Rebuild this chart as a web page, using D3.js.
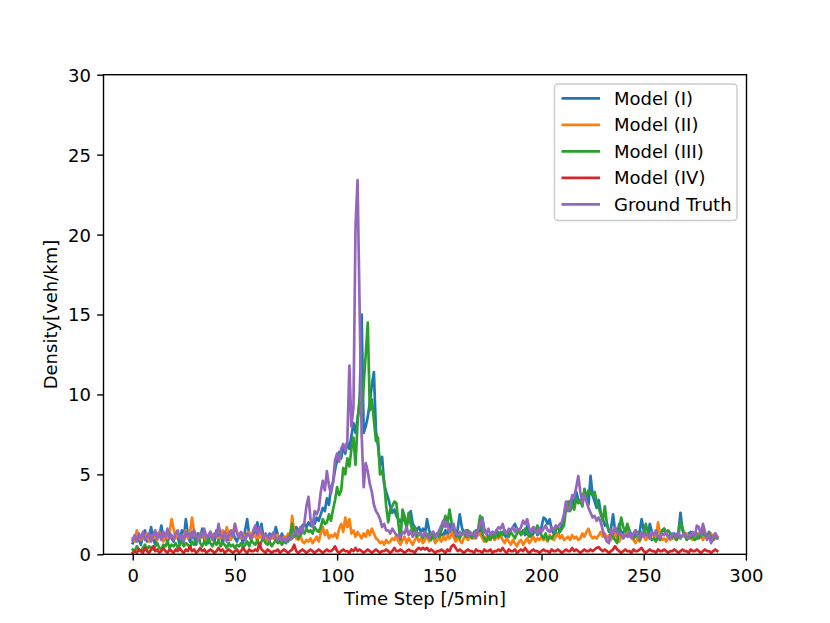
<!DOCTYPE html>
<html>
<head>
<meta charset="utf-8">
<script src="https://cdn.jsdelivr.net/npm/d3@7"></script>
<style>
    body { margin: 0; background: #ffffff; }
    text { font-family: "DejaVu Sans", sans-serif; fill: #000000; }
</style>
</head>
<body>
<script>
// tick labels
var xTicks = [0, 50, 100, 150, 200, 250, 300];
var yTicks = [0, 5, 10, 15, 20, 25, 30];

var seriesNames = ["Model (I)", "Model (II)", "Model (III)", "Model (IV)", "Ground Truth"];
var seriesColors = ["#1f77b4", "#ff7f0e", "#2ca02c", "#d62728", "#9467bd"];

// density per 5 min time step (t = 0 .. 286)
var modelI = [
    0.7, 1.0, 1.3, 0.9, 0.6, 1.2, 1.5, 0.8, 1.1, 1.7,
    1.0, 0.6, 1.3, 1.1, 1.8, 0.9, 1.2, 0.7, 1.4, 1.0,
    0.8, 1.3, 1.1, 0.6, 1.5, 1.0, 2.2, 1.2, 0.8, 1.4,
    1.1, 0.6, 1.3, 1.0, 1.6, 0.9, 1.2, 0.7, 1.4, 1.1,
    0.8, 1.5, 1.0, 1.3, 0.7, 1.2, 1.6, 0.9, 1.1, 1.4,
    1.0, 0.8, 1.3, 1.1, 0.7, 1.5, 2.2, 1.2, 0.9, 1.3,
    1.4, 2.0, 1.1, 1.9, 1.0, 1.2, 0.8, 1.3, 1.1, 1.0,
    1.7, 1.2, 0.9, 1.3, 1.0, 1.1, 0.8, 1.2, 1.0, 1.4,
    1.7, 1.5, 1.4, 1.8, 1.9, 1.7, 2.0, 1.8, 2.1, 1.9,
    2.3, 2.1, 2.5, 2.9, 2.7, 3.5, 3.1, 4.2, 4.5, 5.3,
    5.9, 6.4, 6.0, 6.8, 6.3, 7.0, 6.6, 7.4, 8.2, 7.6,
    8.5, 9.5, 15.0, 7.6, 8.0, 8.6, 9.5, 10.6, 11.4, 7.7,
    6.8, 5.6, 6.1, 4.4, 3.9, 3.5, 3.0, 2.6, 2.8, 2.4,
    2.2, 2.0, 2.3, 2.1, 1.8, 2.2, 2.7, 1.9, 1.7, 1.5,
    1.7, 1.4, 1.6, 1.3, 2.2, 1.5, 1.2, 1.4, 1.1, 1.3,
    1.0, 1.3, 1.2, 1.5, 1.1, 1.9, 1.4, 1.2, 1.0, 1.6,
    2.5, 1.7, 1.3, 1.5, 1.2, 1.4, 1.1, 1.3, 1.5, 1.2,
    1.4, 2.3, 1.6, 1.3, 1.1, 1.2, 1.4, 1.0, 1.5, 1.3,
    1.1, 1.4, 1.2, 1.0, 1.3, 1.5, 1.7, 1.9, 1.6, 1.4,
    1.3, 1.5, 1.2, 1.8, 1.4, 1.1, 1.3, 1.6, 1.2, 1.4,
    1.7, 2.3, 2.2, 1.9, 2.2, 1.5, 1.3, 1.4, 1.2, 1.5,
    1.8, 2.4, 3.1, 2.8, 3.3, 3.5, 3.0, 3.9, 3.4, 3.2,
    3.5, 3.9, 3.6, 3.1, 4.9, 3.7, 3.3, 2.9, 3.4, 2.6,
    2.2, 1.8, 1.9, 1.4, 1.6, 2.5, 1.5, 1.2, 1.9, 1.3,
    1.4, 1.2, 1.6, 1.1, 1.3, 1.0, 1.5, 1.2, 1.4, 2.2,
    1.5, 1.3, 1.1, 1.9, 1.4, 1.2, 1.3, 1.0, 1.2, 1.4,
    1.6, 1.3, 1.1, 1.2, 1.0, 1.3, 1.1, 1.4, 2.6, 1.5,
    1.2, 1.0, 1.3, 1.4, 1.1, 1.2, 1.3, 1.0, 1.4, 1.7,
    1.3, 1.1, 1.4, 1.2, 0.9, 1.3, 1.1
];

var modelII = [
    1.0, 0.8, 1.5, 1.1, 0.9, 1.2, 1.0, 1.3, 0.8, 1.1,
    1.0, 1.2, 0.9, 1.4, 1.1, 0.8, 1.2, 1.0, 1.4, 2.2,
    1.6, 1.0, 1.3, 1.1, 0.9, 1.2, 1.5, 1.0, 1.3, 2.3,
    1.4, 1.1, 0.9, 1.0, 1.3, 1.2, 0.8, 1.1, 1.4, 1.0,
    1.3, 1.2, 0.9, 1.1, 1.5, 1.0, 1.7, 1.2, 0.9, 1.3,
    1.9, 1.4, 1.1, 1.0, 1.3, 0.9, 1.2, 1.4, 1.0, 1.1,
    1.2, 0.8, 1.3, 1.0, 0.9, 1.2, 0.8, 1.1, 1.0, 1.3,
    0.9, 1.2, 1.0, 0.8, 1.1, 0.9, 1.3, 1.0, 2.4, 1.4,
    1.0, 0.9, 1.2, 0.8, 0.7, 0.9, 0.8, 1.0, 0.7, 0.9,
    1.1, 0.8, 1.3, 1.7, 1.2, 1.5, 1.0, 1.2, 1.1, 1.3,
    1.0, 1.6, 1.9, 1.4, 2.3, 1.7, 2.2, 1.3, 1.5, 1.1,
    1.4, 1.2, 1.0, 1.3, 1.1, 1.5, 1.2, 1.6, 1.3, 1.0,
    0.9, 0.7, 0.8, 0.6, 0.9, 0.7, 0.8, 1.0, 0.9, 1.2,
    0.8, 0.6, 0.9, 1.1, 0.7, 1.0, 0.8, 0.6, 0.9, 1.1,
    0.8, 1.0, 0.7, 0.9, 1.2, 0.8, 1.0, 1.1, 0.7, 0.9,
    1.0, 0.8, 1.1, 0.9, 1.2, 1.0, 1.4, 1.1, 0.8, 1.0,
    0.9, 0.7, 1.0, 1.2, 0.9, 1.1, 1.3, 1.0, 1.4, 1.2,
    1.3, 1.0, 0.8, 1.1, 0.9, 1.0, 1.2, 0.9, 1.1, 1.0,
    1.2, 0.9, 0.7, 1.0, 0.8, 0.6, 0.9, 0.7, 0.5, 0.8,
    0.9, 0.6, 0.8, 1.0, 0.7, 0.9, 1.1, 0.8, 1.0, 0.9,
    1.1, 0.9, 1.0, 0.8, 1.2, 1.0, 0.9, 1.1, 1.3, 1.0,
    1.2, 0.9, 1.0, 1.1, 0.9, 1.2, 1.0, 1.1, 0.9, 1.0,
    1.3, 1.1, 1.4, 1.6, 1.2, 1.0, 1.1, 1.0, 1.2, 1.4,
    1.1, 1.3, 1.0, 1.2, 0.9, 1.1, 1.3, 1.0, 0.8, 1.1,
    1.0, 1.3, 1.4, 1.1, 1.2, 0.9, 0.7, 1.0, 0.8, 1.1,
    1.2, 0.9, 1.1, 1.0, 1.3, 1.1, 0.9, 2.0, 1.2, 0.9,
    1.0, 0.8, 1.1, 0.9, 1.2, 1.0, 0.9, 1.1, 1.0, 1.2,
    1.1, 1.3, 1.0, 1.2, 0.9, 1.1, 1.0, 1.3, 1.1, 0.9,
    1.2, 1.0, 1.1, 1.3, 0.9, 1.0, 1.1
];

var modelIII = [
    0.3, 0.2, 0.5, 0.3, 0.2, 0.4, 0.6, 0.3, 0.5, 0.4,
    0.3, 0.5, 0.7, 0.4, 0.3, 0.6, 0.5, 0.8, 0.4, 0.6,
    0.5, 0.7, 0.4, 0.6, 0.9, 0.5, 0.7, 0.6, 0.4, 0.8,
    0.6, 0.9, 1.3, 0.7, 0.5, 0.8, 0.6, 1.0, 0.7, 0.5,
    0.8, 0.6, 0.9, 0.5, 0.7, 0.6, 0.4, 0.7, 0.5, 0.6,
    0.4, 0.6, 0.5, 0.7, 0.4, 0.6, 0.8, 0.5, 0.9, 0.7,
    0.6, 0.9, 0.5, 0.8, 1.0, 0.7, 0.6, 0.8, 0.5, 0.7,
    0.9, 0.7, 0.8, 0.6, 0.8, 0.7, 0.9, 1.2, 1.9, 1.1,
    1.3, 1.0, 1.2, 1.4, 1.3, 1.6, 1.4, 1.5, 1.3, 1.7,
    1.5, 1.4, 1.7, 2.2, 1.9, 2.0, 2.5, 2.1, 2.8, 3.4,
    4.2, 3.7, 4.0, 5.4, 5.0, 6.0, 5.5, 6.6, 7.3, 5.6,
    8.2, 9.8, 8.8, 10.6, 12.5, 14.5, 9.0, 9.7, 8.4, 7.1,
    7.3, 5.0, 5.2, 4.6, 3.0, 2.0, 2.8, 3.0, 3.3, 3.2,
    1.9, 0.9, 2.8, 2.4, 1.6, 2.6, 1.9, 1.4, 1.7, 1.1,
    1.3, 1.2, 1.0, 1.4, 1.1, 1.3, 0.9, 1.2, 1.0, 1.3,
    1.1, 1.5, 1.9, 2.4, 1.9, 2.8, 2.0, 1.5, 1.3, 1.2,
    1.0, 1.3, 1.4, 1.1, 1.5, 1.2, 1.0, 1.4, 1.3, 1.6,
    2.4, 1.3, 1.0, 0.8, 1.1, 0.9, 1.2, 1.0, 1.3, 1.1,
    1.4, 1.2, 1.5, 1.3, 1.1, 1.4, 1.2, 1.0, 1.3, 1.5,
    1.2, 1.4, 1.6, 1.3, 1.1, 1.5, 1.7, 1.4, 1.8, 1.5,
    1.2, 1.0, 1.3, 0.9, 1.1, 1.0, 1.2, 1.5, 1.7, 1.4,
    1.6, 1.8, 2.9, 3.3, 2.7, 3.1, 2.8, 3.5, 3.2, 3.4,
    3.0, 4.1, 3.6, 4.0, 3.8, 3.7, 3.9, 3.3, 2.9, 2.5,
    2.1, 3.0, 1.9, 1.5, 1.3, 1.1, 0.9, 0.7, 1.5, 2.3,
    1.7, 1.4, 1.9, 1.5, 1.2, 1.0, 1.1, 1.4, 0.9, 1.2,
    1.3, 1.9, 1.4, 1.1, 0.9, 1.0, 0.8, 1.1, 0.9, 1.5,
    1.6, 1.4, 1.5, 1.3, 1.1, 1.2, 0.9, 1.1, 2.1, 1.6,
    1.3, 0.9, 1.1, 1.0, 1.2, 0.9, 1.0, 1.2, 1.1, 1.3,
    1.2, 1.0, 1.3, 1.1, 0.9, 1.2, 1.0
];

var modelIV = [
    0.1, 0.2, 0.1, 0.3, 0.2, 0.1, 0.4, 0.2, 0.1, 0.3,
    0.5, 0.2, 0.3, 0.1, 0.2, 0.4, 0.2, 0.1, 0.3, 0.2,
    0.1, 0.3, 0.2, 0.4, 0.2, 0.1, 0.3, 0.2, 0.5, 0.2,
    0.3, 0.1, 0.2, 0.4, 0.2, 0.3, 0.1, 0.2, 0.3, 0.2,
    0.1, 0.2, 0.4, 0.2, 0.3, 0.1, 0.2, 0.3, 0.2, 0.1,
    0.2, 0.3, 0.1, 0.2, 0.4, 0.2, 0.1, 0.3, 0.2, 0.2,
    0.3, 0.2, 0.7, 0.3, 0.2, 0.1, 0.3, 0.2, 0.1, 0.2,
    0.2, 0.3, 0.1, 0.2, 0.3, 0.2, 0.1, 0.2, 0.3, 0.6,
    0.2, 0.1, 0.2, 0.3, 0.2, 0.1, 0.2, 0.3, 0.2, 0.1,
    0.2, 0.3, 0.2, 0.1, 0.2, 0.3, 0.2, 0.2, 0.3, 0.5,
    0.2, 0.1, 0.2, 0.3, 0.2, 0.2, 0.1, 0.3, 0.2, 0.4,
    0.2, 0.3, 0.2, 0.1, 0.2, 0.3, 0.2, 0.1, 0.2, 0.3,
    0.2, 0.1, 0.2, 0.2, 0.3, 0.2, 0.1, 0.2, 0.4, 0.2,
    0.2, 0.3, 0.2, 0.1, 0.2, 0.3, 0.2, 0.2, 0.1, 0.3,
    0.4, 0.3, 0.4, 0.3, 0.4, 0.2, 0.3, 0.2, 0.1, 0.2,
    0.2, 0.3, 0.2, 0.1, 0.3, 0.2, 0.5, 0.6, 0.4, 0.2,
    0.3, 0.2, 0.1, 0.2, 0.3, 0.2, 0.2, 0.1, 0.3, 0.2,
    0.2, 0.1, 0.3, 0.2, 0.2, 0.3, 0.1, 0.2, 0.2, 0.3,
    0.2, 0.4, 0.2, 0.1, 0.3, 0.2, 0.2, 0.3, 0.1, 0.2,
    0.3, 0.2, 0.4, 0.2, 0.1, 0.2, 0.3, 0.2, 0.2, 0.1,
    0.2, 0.3, 0.2, 0.2, 0.1, 0.3, 0.2, 0.2, 0.3, 0.2,
    0.1, 0.2, 0.3, 0.2, 0.2, 0.4, 0.2, 0.3, 0.2, 0.1,
    0.2, 0.3, 0.2, 0.2, 0.3, 0.2, 0.3, 0.4, 0.45, 0.3,
    0.2, 0.3, 0.2, 0.1, 0.2, 0.3, 0.5, 0.3, 0.2, 0.1,
    0.2, 0.3, 0.2, 0.2, 0.1, 0.3, 0.2, 0.2, 0.3, 0.4,
    0.2, 0.1, 0.2, 0.3, 0.2, 0.2, 0.1, 0.3, 0.2, 0.2,
    0.3, 0.2, 0.1, 0.2, 0.2, 0.3, 0.2, 0.1, 0.2, 0.3,
    0.2, 0.2, 0.1, 0.3, 0.2, 0.2, 0.3, 0.2, 0.1, 0.2,
    0.3, 0.2, 0.2, 0.1, 0.2, 0.3, 0.2
];

var groundTruth = [
    0.9, 1.2, 0.8, 1.3, 1.0, 1.4, 0.9, 1.1, 1.3, 0.8,
    1.2, 1.5, 1.0, 1.3, 0.9, 1.4, 1.1, 1.6, 1.0, 1.2,
    0.9, 1.3, 1.5, 1.0, 1.2, 0.8, 1.4, 1.1, 1.3, 1.0,
    1.5, 1.2, 0.9, 1.3, 1.1, 1.6, 1.0, 1.2, 1.4, 0.9,
    1.3, 1.1, 1.9, 1.2, 1.0, 1.4, 0.8, 1.2, 1.5, 1.1,
    1.9, 1.3, 1.0, 1.4, 1.1, 0.9, 1.3, 1.2, 1.0, 1.5,
    1.8, 1.2, 1.7, 1.4, 1.0, 1.3, 1.1, 0.9, 1.2, 1.4,
    1.0, 0.9, 1.1, 0.9, 1.0, 0.8, 1.1, 0.9, 1.0, 1.3,
    1.5, 1.2, 1.7, 1.4, 2.0, 3.0, 3.6, 2.2, 1.7, 2.7,
    2.5, 2.8, 3.9, 4.6, 4.0, 5.2, 4.3, 3.8, 4.5, 5.9,
    6.3, 5.8, 6.6, 6.9, 6.5, 7.1, 11.8, 8.0, 9.2, 20.5,
    23.4, 15.5, 7.5, 4.2, 5.7, 5.2, 4.4, 3.9, 3.1, 2.7,
    2.5, 2.2, 1.7, 1.9, 1.5, 1.5, 1.3, 1.6, 1.4, 1.2,
    1.2, 1.0, 1.4, 1.3, 1.7, 1.2, 1.5, 1.1, 1.3, 1.4,
    1.2, 1.3, 1.1, 1.4, 1.2, 1.0, 1.3, 1.4, 1.1, 1.2,
    1.5, 1.8, 2.1, 1.7, 2.0, 1.4, 1.6, 1.9, 1.3, 1.2,
    1.4, 1.2, 1.3, 1.5, 1.1, 1.4, 1.2, 1.3, 1.0, 1.6,
    1.9, 2.2, 1.4, 1.3, 1.6, 1.2, 1.4, 1.3, 1.5, 1.7,
    1.6, 1.9, 1.4, 1.3, 1.6, 1.5, 1.7, 1.4, 1.6, 1.5,
    1.7, 2.1, 1.9, 2.2, 1.6, 1.4, 1.7, 1.5, 1.3, 1.6,
    1.4, 1.6, 1.8, 1.5, 1.4, 1.7, 1.5, 1.8, 1.7, 1.9,
    2.0, 2.5, 3.3, 2.7, 2.9, 3.7, 3.6, 4.2, 4.9, 3.9,
    3.2, 3.7, 3.3, 2.9, 2.6, 2.3, 2.4, 2.1, 2.3, 2.0,
    1.5, 1.1, 0.8, 0.7, 1.6, 1.3, 1.7, 1.4, 1.2, 1.3,
    1.0, 1.2, 1.1, 1.4, 1.0, 1.3, 1.5, 1.2, 1.0, 1.4,
    1.1, 1.3, 1.2, 1.0, 1.4, 1.2, 1.5, 1.1, 1.0, 1.3,
    1.2, 1.4, 1.1, 1.0, 1.3, 1.2, 1.1, 1.4, 1.0, 1.2,
    1.3, 1.1, 1.0, 1.2, 1.4, 1.1, 1.8, 1.7, 1.2, 1.9,
    1.4, 0.9, 1.2, 0.7, 1.1, 1.3, 1.0
];

function init() {
    var w = 830;
    var h = 623;
    var left = 103.5, right = 746.5, top = 74.7, bottom = 554.3;

    var allSeries = [modelI, modelII, modelIII, modelIV, groundTruth];
    var steps = d3.range(groundTruth.length);

    var svg = d3.select("body")
        .append("svg")
        .attr("width", w)
        .attr("height", h);

    // matplotlib style 5% margin around the data range
    var xPad = (steps.length - 1) * 0.05;
    var xScale = d3.scaleLinear()
        .domain([-xPad, steps.length - 1 + xPad])
        .range([left, right]);

    var yScale = d3.scaleLinear()
        .domain([0, 30])
        .range([bottom, top]);

    var line = d3.line()
        .x(function(d, i) { return xScale(i); })
        .y(function(d) { return yScale(d); });

    // lines, same order as the legend so Ground Truth ends on top
    allSeries.forEach(function(values, k) {
        svg.append("path")
            .datum(values)
            .attr("fill", "none")
            .attr("stroke", seriesColors[k])
            .attr("stroke-width", 2.7)
            .attr("stroke-linejoin", "round")
            .attr("stroke-linecap", "square")
            .attr("d", line);
    });

    // X axis
    var xAxis = d3.axisBottom(xScale)
        .tickValues(xTicks)
        .tickSize(6.3)
        .tickSizeOuter(0)
        .tickPadding(8.3);

    var gx = svg.append("g")
        .attr("transform", "translate(0," + bottom + ")")
        .call(xAxis);

    // Y axis
    var yAxis = d3.axisLeft(yScale)
        .tickValues(yTicks)
        .tickSize(6.3)
        .tickSizeOuter(0)
        .tickPadding(6.2);

    var gy = svg.append("g")
        .attr("transform", "translate(" + left + ",0)")
        .call(yAxis);

    [gx, gy].forEach(function(g) {
        g.select(".domain").remove();
        g.selectAll(".tick line").attr("stroke", "#000").attr("stroke-width", 1.4);
        g.selectAll(".tick text")
            .attr("font-family", "DejaVu Sans")
            .attr("font-size", 18)
            .attr("fill", "#000");
    });
    gy.selectAll(".tick text").attr("dy", "0.36em");

    // frame (spines)
    svg.append("rect")
        .attr("x", left)
        .attr("y", top)
        .attr("width", right - left)
        .attr("height", bottom - top)
        .attr("fill", "none")
        .attr("stroke", "#000")
        .attr("stroke-width", 1.4);

    // axis labels
    svg.append("text")
        .attr("x", (left + right) / 2)
        .attr("y", 605)
        .attr("text-anchor", "middle")
        .attr("font-size", 18)
        .text("Time Step [/5min]");

    svg.append("text")
        .attr("transform", "translate(57," + ((top + bottom) / 2) + ") rotate(-90)")
        .attr("text-anchor", "middle")
        .attr("font-size", 18)
        .text("Density[veh/km]");

    // legend
    var legend = svg.append("g");
    legend.append("rect")
        .attr("x", 554.5)
        .attr("y", 84)
        .attr("width", 182.5)
        .attr("height", 136.5)
        .attr("rx", 3.5)
        .attr("fill", "#ffffff")
        .attr("fill-opacity", 0.8)
        .attr("stroke", "#cccccc")
        .attr("stroke-width", 1.4);

    seriesNames.forEach(function(name, k) {
        var ly = 98.3 + k * 26.5;
        legend.append("line")
            .attr("x1", 561.5)
            .attr("x2", 600)
            .attr("y1", ly)
            .attr("y2", ly)
            .attr("stroke", seriesColors[k])
            .attr("stroke-width", 2.7);
        legend.append("text")
            .attr("x", 614)
            .attr("y", ly + 6.5)
            .attr("font-size", 18)
            .text(name);
    });
}

window.onload = init;
</script>
</body>
</html>
